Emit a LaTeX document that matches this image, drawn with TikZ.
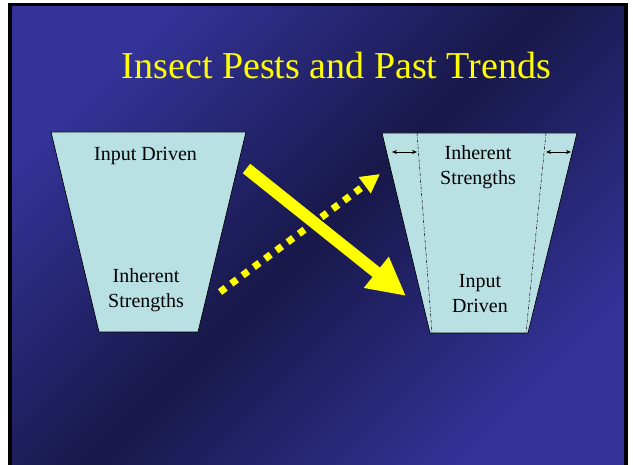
\documentclass[tikz,border=0pt]{standalone}
\usepackage{fontspec}
\setmainfont{Liberation Serif}
\usetikzlibrary{arrows.meta}

\definecolor{slideblue}{RGB}{51,51,153}
\definecolor{slidenavy}{RGB}{24,24,74}
\definecolor{funnelfill}{RGB}{185,225,228}
\definecolor{slideyellow}{RGB}{255,255,0}

\begin{document}
\begin{tikzpicture}[
    x=1pt,y=-1pt,
    funnel/.style={draw=black,line width=0.7pt,fill=funnelfill},
    funneltext/.style={anchor=base,align=center,font=\rmfamily\fontsize{20}{25}\selectfont},
    bigarrow/.style={-{Triangle[length=38pt,width=37pt]},line width=12pt,draw=slideyellow},
    dotarrow/.style={-{Triangle[length=19pt,width=19pt]},line width=7pt,dash pattern=on 7pt off 7pt,draw=slideyellow},
    gaparrow/.style={{Stealth[length=5pt,width=4pt]}-{Stealth[length=5pt,width=4pt]},line width=0.6pt},
    midline/.style={line width=0.5pt,dash pattern=on 3pt off 1.5pt on 0.7pt off 1.5pt},
]

% ===== Slide background =====
\fill[white] (0,0) rectangle (633,465);
\fill[black] (8,3) rectangle (628,465);
\shade[top color=slideblue,bottom color=slideblue,middle color=slidenavy,shading angle=45] (12,7) rectangle (624,465);
\useasboundingbox (0,0) rectangle (633,465);

% ===== Title =====
\node[anchor=base,text=slideyellow,font=\rmfamily\fontsize{38}{40}\selectfont] (title) at (336.5,78.3) {Insect Pests and Past Trends};

% ===== Left funnel (past) =====
\coordinate (pastTL) at (51,132);
\coordinate (pastTR) at (246,132);
\coordinate (pastBR) at (198,332);
\coordinate (pastBL) at (99,332);
\draw[funnel] (pastTL) -- (pastTR) -- (pastBR) -- (pastBL) -- cycle;
\node[funneltext] (pastinput) at (145.5,160.5) {Input Driven};
\node[funneltext] (pastinherent) at (146,308) {Inherent\\Strengths};

% ===== Right funnel (trend) =====
\coordinate (trendTL) at (382,133);
\coordinate (trendTR) at (577,133);
\coordinate (trendBR) at (528,333);
\coordinate (trendBL) at (430,333);
\draw[funnel] (trendTL) -- (trendTR) -- (trendBR) -- (trendBL) -- cycle;
\node[funneltext] (trendinherent) at (478,185) {Inherent\\Strengths};
\node[funneltext] (trendinput) at (480,313) {Input\\Driven};

% inner boundaries and widening gaps
\coordinate (innerTL) at (417,133);
\coordinate (innerTR) at (546,133);
\draw[midline] (innerTL) -- (432,333);
\draw[midline] (innerTR) -- (526,333);
\coordinate (gapL) at (392,152);
\coordinate (gapR) at (571,152);
\draw[gaparrow] (gapL) -- (gapL -| innerTL);
\draw[gaparrow] (gapL -| innerTR) -- (gapR);

% ===== Shift arrows =====
\coordinate (inputfrom) at (246.5,168.5);
\coordinate (inputto) at (406,296);
\coordinate (inherentfrom) at (220,292);
\coordinate (inherentto) at (380,174);
\draw[bigarrow] (inputfrom) -- (inputto);
\draw[dotarrow] (inherentfrom) -- (inherentto);

\end{tikzpicture}
\end{document}
